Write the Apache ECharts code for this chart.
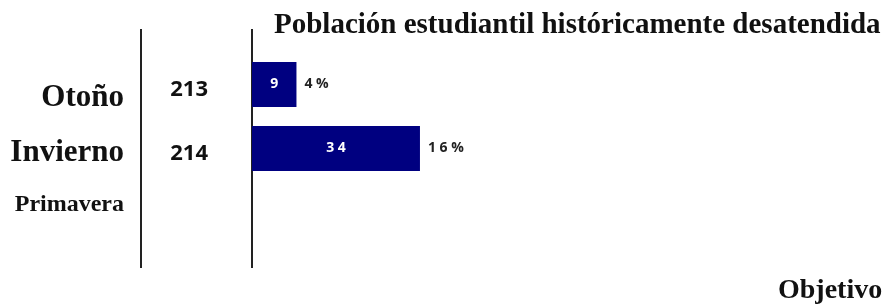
<!DOCTYPE html>
<html>
<head>
<meta charset="utf-8">
<script src="https://cdn.jsdelivr.net/npm/echarts@6/dist/echarts.min.js"></script>
<style>
  html, body { margin: 0; padding: 0; background: #fff; }
  #chart { width: 883px; height: 308px; }
</style>
</head>
<body>
<div id="chart"></div>
<script>
// data
const terms = ['Otoño', 'Invierno', 'Primavera']
const totals = ['213', '214', '']
const underserved = [9, 34, null]
const percents = [4, 16, null]

const serif = '"Liberation Serif", "DejaVu Serif", serif'
const sans = '"Open Sans", "Liberation Sans", sans-serif'

const spaced = v => String(v).split('').join(' ')

const chart = echarts.init(document.getElementById('chart'))

const option = {
  animation: false,
  title: [
    {
      text: 'Población estudiantil históricamente desatendida',
      left: 269,
      top: 6,
      textStyle: { fontFamily: serif, fontWeight: 'bold', fontSize: 29, color: '#111' }
    },
    {
      text: 'Objetivo',
      left: 773,
      top: 272,
      textStyle: { fontFamily: serif, fontWeight: 'bold', fontSize: 28, color: '#111' }
    }
  ],
  grid: {
    left: 252,
    width: 494,
    top: 52.5,
    height: 192
  },
  xAxis: {
    type: 'value',
    min: 0,
    max: 100,
    show: false
  },
  yAxis: [
    {
      type: 'category',
      data: terms,
      inverse: true,
      axisLine: { show: false },
      axisTick: { show: false },
      axisLabel: {
        margin: 128,
        formatter: (v, i) => ['{a|' + v + '}', '{b|' + v + '}', '{c|' + v + '}'][i],
        rich: {
          a: { fontFamily: serif, fontWeight: 'bold', fontSize: 31, color: '#111', padding: [26, 0, 0, 0] },
          b: { fontFamily: serif, fontWeight: 'bold', fontSize: 31, color: '#111', padding: [9, 0, 0, 0] },
          c: { fontFamily: serif, fontWeight: 'bold', fontSize: 24, color: '#111', padding: [0, 0, 15, 0] }
        }
      }
    },
    {
      type: 'category',
      data: totals,
      inverse: true,
      position: 'left',
      axisLine: { show: false },
      axisTick: { show: false },
      axisLabel: {
        margin: 44,
        formatter: v => '{n|' + v + '}',
        rich: {
          n: { fontFamily: sans, fontWeight: 'bold', fontSize: 22, color: '#111', padding: [10, 0, 0, 0] }
        }
      }
    }
  ],
  graphic: [
    { type: 'line', shape: { x1: 141, y1: 29, x2: 141, y2: 268 }, style: { stroke: '#222', lineWidth: 2 } },
    { type: 'line', shape: { x1: 252, y1: 29, x2: 252, y2: 268 }, style: { stroke: '#222', lineWidth: 2 } }
  ],
  series: [
    {
      type: 'bar',
      data: underserved,
      barWidth: 45,
      itemStyle: { color: '#000080' },
      label: {
        show: true,
        position: 'inside',
        formatter: p => spaced(p.value),
        fontFamily: sans,
        fontWeight: 'bold',
        fontSize: 14,
        color: '#fff'
      },
      z: 3
    },
    {
      type: 'bar',
      data: underserved,
      barWidth: 45,
      barGap: '-100%',
      itemStyle: { color: 'rgba(0,0,0,0)' },
      label: {
        show: true,
        position: 'right',
        distance: 8,
        formatter: p => spaced(percents[p.dataIndex]) + ' %',
        fontFamily: sans,
        fontWeight: 'bold',
        fontSize: 14,
        color: '#222'
      },
      z: 2
    }
  ]
}

chart.setOption(option)
</script>
</body>
</html>
